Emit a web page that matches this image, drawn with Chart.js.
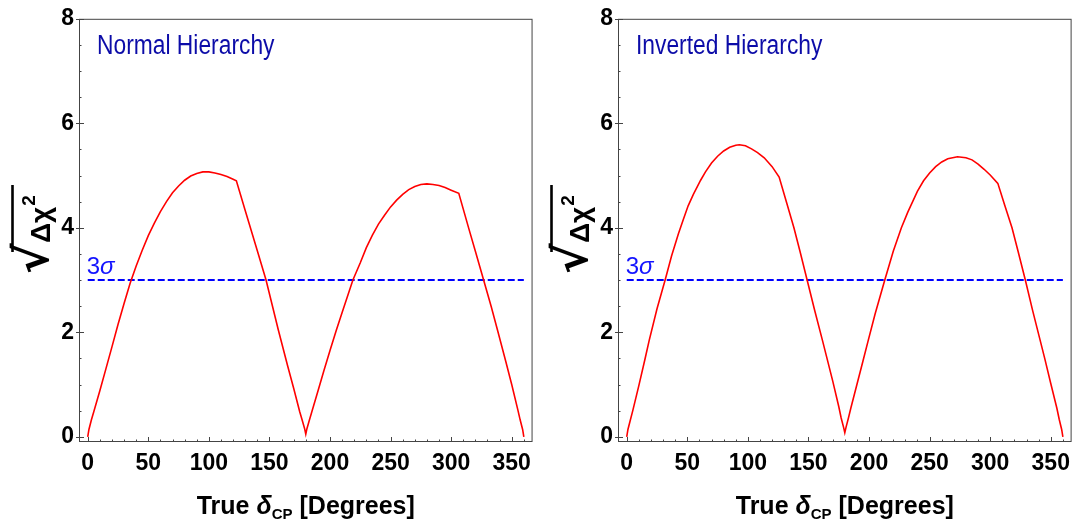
<!DOCTYPE html>
<html><head><meta charset="utf-8">
<script src="https://cdn.jsdelivr.net/npm/chart.js@4.4.0/dist/chart.umd.min.js"></script>
<style>
html,body{margin:0;padding:0;background:#fff;}
#wrap{position:relative;width:1078px;height:523px;overflow:hidden;background:#fff;}
canvas{position:absolute;top:0;}
</style></head><body>
<div id="wrap">
<canvas id="c1" width="539" height="523" style="left:0"></canvas>
<canvas id="c2" width="539" height="523" style="left:539px"></canvas>
</div>
<script>
// ---- data ----
const deltaNH = [0, 1, 3, 5, 10, 15, 20, 25, 30, 35, 40, 45, 50, 55, 60, 65, 70, 75, 80, 85, 90, 95, 100, 105, 110, 115, 120, 122.7,
                 130, 140, 147.2, 157.4, 165, 170, 175, 177, 179, 180, 181, 183, 185, 190, 195, 200, 205.2, 210, 215, 218.9,
                 225, 230, 235, 240, 245, 250, 255, 260, 265, 270, 275, 280, 285, 290, 295, 300, 306.3,
                 315, 320, 326.8, 333, 338.3, 345, 350, 355, 357, 359, 360];
const chiNH   = [0, 0.14, 0.32, 0.48, 0.88, 1.3, 1.72, 2.15, 2.55, 2.94, 3.27, 3.57, 3.85, 4.09, 4.31, 4.5, 4.67, 4.8, 4.91, 4.99, 5.04, 5.07, 5.07, 5.05, 5.02, 4.98, 4.93, 4.9,
                 4.33, 3.56, 3.0, 2.04, 1.36, 0.93, 0.48, 0.32, 0.16, 0.05, 0.16, 0.32, 0.48, 0.87, 1.27, 1.65, 2.04, 2.38, 2.73, 3.0,
                 3.33, 3.62, 3.86, 4.07, 4.24, 4.4, 4.53, 4.64, 4.73, 4.79, 4.83, 4.84, 4.83, 4.81, 4.77, 4.72, 4.66,
                 3.95, 3.55, 3.0, 2.5, 2.04, 1.45, 1.0, 0.52, 0.32, 0.14, 0];
const deltaIH = [0, 1, 3, 5, 10, 15, 18.6, 25, 31.7, 37, 42.6, 47, 50.7, 55, 61, 65, 70, 75, 80, 85, 90, 93, 98, 103, 108, 113.5, 120, 125.8,
                 132, 138, 143, 148.9, 155, 161.5, 165, 170, 175, 177, 179, 180, 181, 183, 185, 190, 195, 199.4, 205, 213,
                 220, 226.7, 232, 240, 245, 250, 255, 260, 265, 273, 280, 285, 290, 295, 300, 306.3,
                 312, 318, 323, 329, 335, 341.2, 345, 350, 355, 357, 359, 360];
const chiIH   = [0, 0.14, 0.32, 0.5, 0.98, 1.48, 1.85, 2.45, 3.0, 3.46, 3.88, 4.18, 4.42, 4.64, 4.91, 5.07, 5.24, 5.37, 5.47, 5.54, 5.58, 5.59, 5.57, 5.51, 5.44, 5.34, 5.17, 4.97,
                 4.48, 4.0, 3.55, 3.0, 2.43, 1.85, 1.53, 1.07, 0.58, 0.36, 0.18, 0.08, 0.18, 0.36, 0.55, 1.0, 1.45, 1.85, 2.35, 3.0,
                 3.55, 4.0, 4.3, 4.7, 4.9, 5.05, 5.17, 5.26, 5.32, 5.36, 5.34, 5.3, 5.22, 5.12, 5.01, 4.85,
                 4.43, 4.0, 3.55, 3.0, 2.42, 1.85, 1.5, 1.02, 0.55, 0.33, 0.14, 0];
const sigmaLevel = 3;
const sigmaSpan = [0, 360];
const xTickValues = [0, 50, 100, 150, 200, 250, 300, 350];
const yTickValues = [0, 2, 4, 6, 8];
const xMinorStep = 10;
const yMinorStep = 0.5;
const panelTitles = ['Normal Hierarchy', 'Inverted Hierarchy'];
const sigmaLabel = '3σ';

const FONT = '"Liberation Sans", Arial, sans-serif';

const decor = {
  id: 'decor',
  afterDatasetsDraw(chart, args, opts) {
    const {ctx, chartArea: a, scales: {x, y}} = chart;
    ctx.save();
    // frame
    ctx.strokeStyle = '#444';
    ctx.lineWidth = 1;
    ctx.strokeRect(a.left + 0.5, a.top + 0.5, a.right - a.left - 1, a.bottom - a.top - 1);
    // ticks (inside)
    ctx.beginPath();
    for (let v = 0; v <= 360 + 1e-9; v += xMinorStep) {
      const px = Math.round(x.getPixelForValue(v)) + 0.5;
      const len = (Math.abs(v % 50) < 1e-6) ? 5 : 2.5;
      ctx.moveTo(px, a.bottom); ctx.lineTo(px, a.bottom - len);
    }
    for (let v = 0; v <= 8 + 1e-9; v += yMinorStep) {
      const py = Math.round(y.getPixelForValue(v)) + 0.5;
      const major = Math.abs(v % 2) < 1e-6;
      const len = major ? 5 : 2.5;
      ctx.moveTo(a.left - (major ? 3 : 0), py); ctx.lineTo(a.left + len, py);
    }
    ctx.stroke();

    // panel title (condensed)
    ctx.fillStyle = '#0c0ca8';
    ctx.textBaseline = 'alphabetic';
    ctx.textAlign = 'left';
    ctx.save();
    ctx.translate(a.left + 18, a.top + 35);
    ctx.scale(0.845, 1);
    ctx.font = '27px ' + FONT;
    ctx.fillText(opts.title, 0, 0);
    ctx.restore();

    // 3 sigma label
    ctx.fillStyle = '#1414ff';
    const sx = x.getPixelForValue(sigmaSpan[0]) - 1;
    const sy = y.getPixelForValue(sigmaLevel) - 6.5;
    ctx.font = '24px ' + FONT;
    const three = sigmaLabel.charAt(0);
    ctx.fillText(three, sx, sy);
    const w3 = ctx.measureText(three).width;
    ctx.font = 'italic 24px ' + FONT;
    ctx.fillText(sigmaLabel.slice(1), sx + w3, sy);

    // x axis title: True δ_CP [Degrees]
    ctx.fillStyle = '#000';
    const parts = [
      {t: 'True ', f: 'bold 25px ' + FONT, dy: 0},
      {t: 'δ', f: 'italic bold 25px ' + FONT, dy: 0},
      {t: 'CP', f: 'bold 15px ' + FONT, dy: 5},
      {t: ' [Degrees]', f: 'bold 25px ' + FONT, dy: 0}
    ];
    let total = 0;
    parts.forEach(p => { ctx.font = p.f; p.w = ctx.measureText(p.t).width; total += p.w; });
    let cx = (a.left + a.right) / 2 - total / 2;
    const base = 514;
    parts.forEach(p => { ctx.font = p.f; ctx.fillText(p.t, cx, base + p.dy); cx += p.w; });

    // y axis title: sqrt(Δχ^2), rotated
    ctx.save();
    ctx.translate(0, 272);
    ctx.rotate(-Math.PI / 2);
    ctx.font = 'bold 46px "DejaVu Sans"';
    ctx.fillText('√', -2, 48);
    ctx.lineWidth = 2.6;
    ctx.strokeStyle = '#000';
    ctx.beginPath();
    ctx.moveTo(20, 12.5); ctx.lineTo(87, 12.5);
    ctx.stroke();
    ctx.font = 'bold 28px ' + FONT;
    ctx.fillText('Δχ', 29, 50);
    const wd = ctx.measureText('Δχ').width;
    ctx.font = 'bold 19px ' + FONT;
    ctx.fillText('2', 29 + wd + 1, 35);
    ctx.restore();

    ctx.restore();
  }
};

function makeChart(id, xs, ys, title, padRight) {
  const pts = xs.map((v, i) => ({x: v, y: ys[i]}));
  const sig = sigmaSpan.map(v => ({x: v, y: sigmaLevel}));
  return new Chart(document.getElementById(id), {
    type: 'line',
    data: {
      datasets: [
        {data: pts, borderColor: '#ff0000', borderWidth: 1.6, pointRadius: 0, tension: 0, fill: false},
        {data: sig, borderColor: '#0000ff', borderWidth: 2, borderDash: [7, 3], pointRadius: 0, fill: false}
      ]
    },
    options: {
      responsive: false,
      animation: false,
      devicePixelRatio: 1,
      layout: {padding: {top: 17, right: padRight, left: 0, bottom: 0}},
      plugins: {legend: {display: false}, tooltip: {enabled: false}, decor: {title: title}},
      scales: {
        x: {
          type: 'linear', min: -7.2, max: 367.2,
          grid: {display: false, drawTicks: false},
          border: {display: false},
          afterBuildTicks: s => { s.ticks = xTickValues.map(v => ({value: v})); },
          afterFit: s => { s.height = 81; },
          ticks: {padding: 8, color: '#000', font: {family: FONT, weight: 'bold', size: 23}, maxRotation: 0}
        },
        y: {
          type: 'linear', min: -0.1, max: 8,
          grid: {display: false, drawTicks: false},
          border: {display: false},
          afterBuildTicks: s => { s.ticks = yTickValues.map(v => ({value: v})); },
          afterFit: s => { s.width = 79; },
          ticks: {padding: 5, color: '#000', font: {family: FONT, weight: 'bold', size: 23}}
        }
      }
    },
    plugins: [decor]
  });
}
makeChart('c1', deltaNH, chiNH, panelTitles[0], 2);
makeChart('c2', deltaIH, chiIH, panelTitles[1], 1);
</script>
</body></html>
